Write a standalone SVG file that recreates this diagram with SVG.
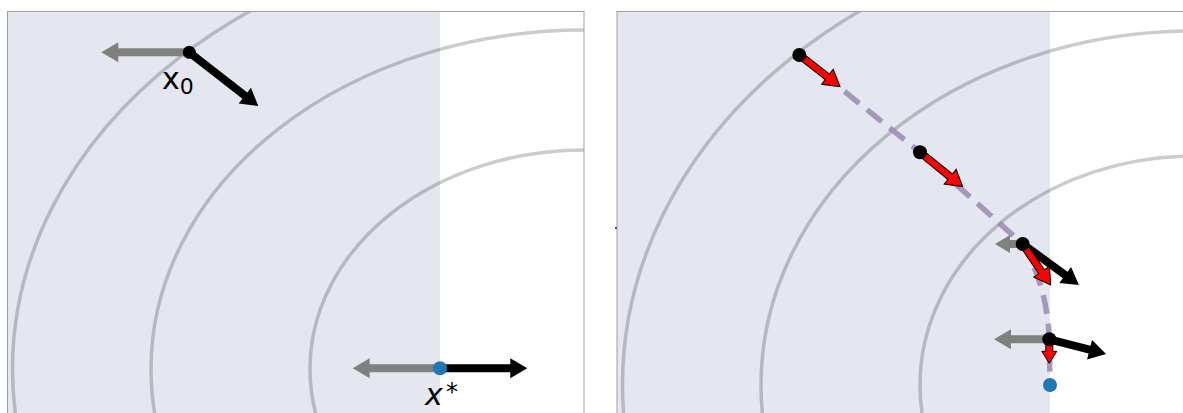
<svg xmlns="http://www.w3.org/2000/svg" width="1183" height="413" viewBox="0 0 1183 413">
  <style>
    .frame { fill: none; stroke: #a0a0a0; stroke-width: 1; }
    .shade { fill: #e4e7ef; stroke: none; }
    .contour { fill: none; stroke: #000; stroke-opacity: 0.2; stroke-width: 3.5; }
    .gray { fill: #808080; }
    .black { fill: #000; }
    .red { fill: #ff0000; stroke: #000; stroke-width: 1; stroke-linejoin: miter; }
    .dot { fill: #000; }
    .opt { fill: #1f77b4; }
    .path { fill: none; stroke: #9a88b0; stroke-opacity: 0.85; stroke-width: 5.5; stroke-dasharray: 19 10; }
    .lbl { font-family: "DejaVu Sans", sans-serif; fill: #000; }
  </style>
  <defs>
    <clipPath id="clipL"><rect x="7" y="11" width="577" height="410"/></clipPath>
    <clipPath id="clipR"><rect x="617" y="11" width="570" height="410"/></clipPath>
  </defs>
  <rect x="0" y="0" width="1183" height="413" fill="#fff"/>

  <!-- Left panel -->
  <g id="panel-left">
    <rect class="shade" x="7" y="11" width="433" height="410"/>
    <g clip-path="url(#clipL)">
      <ellipse class="contour" cx="584" cy="369" rx="274" ry="219"/>
      <ellipse class="contour" cx="584" cy="369" rx="433" ry="339"/>
      <ellipse class="contour" cx="584" cy="369" rx="571.5" ry="441"/>
    </g>
    <rect class="frame" x="7.5" y="11.5" width="576.5" height="420"/>
  </g>

  <g id="connectors">
    <polygon class="gray" transform="translate(189.3,52.3) rotate(180)" points="0,-4 71,-4 71,-10 88,0 71,10 71,4 0,4"/>
    <polygon class="black" transform="translate(189.3,52.3) rotate(37.9)" points="0,-4 70.4,-4 70.4,-10 87.4,0 70.4,10 70.4,4 0,4"/>
    <polygon class="gray" transform="translate(440,368.3) rotate(180)" points="0,-4 70.3,-4 70.3,-10 87.3,0 70.3,10 70.3,4 0,4"/>
    <polygon class="black" transform="translate(440,368.3)" points="0,-4 70.3,-4 70.3,-10 87.3,0 70.3,10 70.3,4 0,4"/>
  </g>

  <g id="node-x0">
    <circle class="dot" cx="189.3" cy="52.3" r="6.5"/>
    <text class="lbl" x="162" y="89" font-size="30">x<tspan font-size="22" dy="5">0</tspan></text>
  </g>
  <g id="node-xstar">
    <circle class="opt" cx="440" cy="368.3" r="7"/>
    <text class="lbl" x="425" y="405" font-size="30" font-style="italic">x</text>
    <text class="lbl" x="446" y="400" font-size="24">*</text>
  </g>

  <!-- Right panel -->
  <g id="panel-right">
    <rect class="shade" x="617" y="11" width="433" height="410"/>
    <g clip-path="url(#clipR)">
      <ellipse class="contour" cx="1194" cy="385" rx="274" ry="229"/>
      <ellipse class="contour" cx="1194" cy="385" rx="433" ry="354"/>
      <ellipse class="contour" cx="1194" cy="385" rx="571.5" ry="461"/>
    </g>
    <rect class="frame" x="617" y="11.5" width="600" height="420"/>
    <rect x="615" y="227" width="2" height="2" fill="#555"/>
  </g>

  <g id="connectors-right">
    <path class="path" d="M799.3,55 L920,152.3 L1022.7,244 C1036,266 1048,300 1049.3,339.3 L1050,385"/>
    <polygon class="red" transform="translate(799.3,55) rotate(37.9)" points="0,-3.5 35.6,-3.5 35.6,-9.5 51.6,0 35.6,9.5 35.6,3.5 0,3.5"/>
    <polygon class="red" transform="translate(920,152.3) rotate(38.9)" points="0,-3.5 38.8,-3.5 38.8,-9.5 54.8,0 38.8,9.5 38.8,3.5 0,3.5"/>
    <polygon class="gray" transform="translate(1022.7,244) rotate(180)" points="0,-4 12.7,-4 12.7,-9 27.7,0 12.7,9 12.7,4 0,4"/>
    <polygon class="black" transform="translate(1022.7,244) rotate(36.1)" points="0,-4 52.6,-4 52.6,-10 69.6,0 52.6,10 52.6,4 0,4"/>
    <polygon class="red" transform="translate(1022.7,244) rotate(55.7)" points="0,-3.5 33.6,-3.5 33.6,-9.5 49.6,0 33.6,9.5 33.6,3.5 0,3.5"/>
    <polygon class="gray" transform="translate(1049.3,339.3) rotate(180)" points="0,-4 38.3,-4 38.3,-10 55.3,0 38.3,10 38.3,4 0,4"/>
    <polygon class="black" transform="translate(1049.3,339.3) rotate(14.5)" points="0,-4 41.6,-4 41.6,-10 58.6,0 41.6,10 41.6,4 0,4"/>
    <polygon class="red" transform="translate(1049.3,339.3) rotate(90)" points="0,-3.5 12,-3.5 12,-7.5 24,0 12,7.5 12,3.5 0,3.5"/>
  </g>

  <g id="node-iter1"><circle class="dot" cx="799.3" cy="55" r="7"/></g>
  <g id="node-iter2"><circle class="dot" cx="920" cy="152.3" r="7"/></g>
  <g id="node-iter3"><circle class="dot" cx="1022.7" cy="244" r="7"/></g>
  <g id="node-iter4"><circle class="dot" cx="1049.3" cy="339.3" r="7"/></g>
  <g id="node-opt-right"><circle class="opt" cx="1050" cy="385" r="7"/></g>
</svg>
